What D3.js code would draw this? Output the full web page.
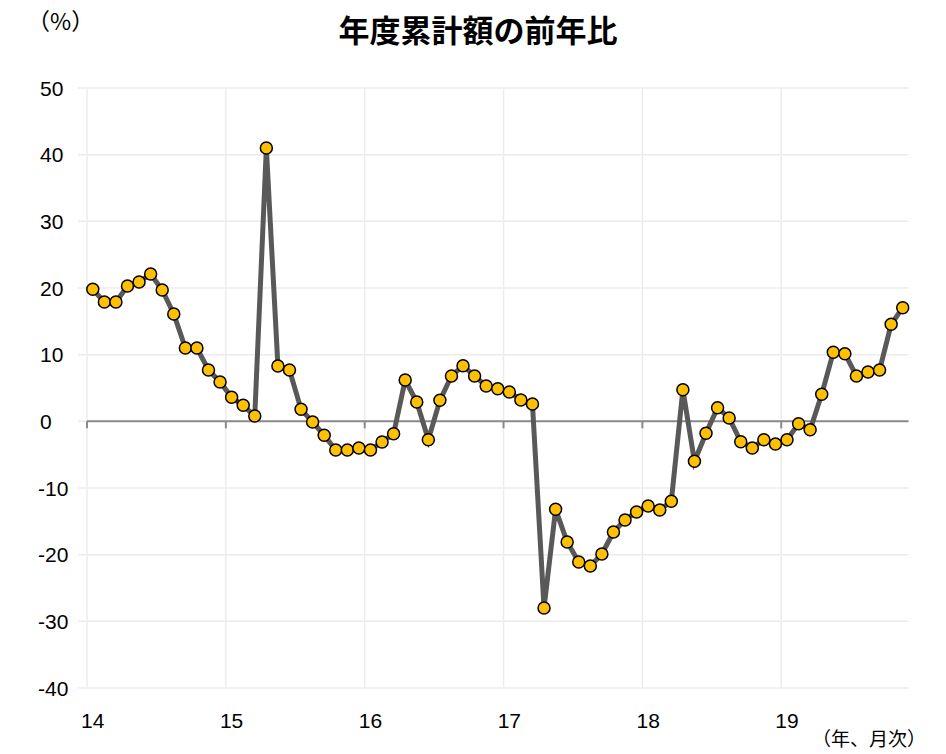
<!DOCTYPE html>
<html>
<head>
<meta charset="utf-8">
<script src="https://cdn.jsdelivr.net/npm/d3@7"></script>
<style>
  body { margin: 0; background: #fff; }
  svg { display: block; }
  text { font-family: "Liberation Sans", Arial, "Noto Sans CJK JP", sans-serif; fill: #000; }
  .jp { font-family: "Noto Sans CJK JP", sans-serif; }
</style>
</head>
<body>
<div id="chart"></div>
<script>
// year labels shown on the x axis
const yearLabels = ['14', '15', '16', '17', '18', '19'];
// y axis ticks
const yTicks = [50, 40, 30, 20, 10, 0, -10, -20, -30, -40];
// monthly yoy %, Jan 2014 .. Nov 2019
const values = [
  19.8, 17.9, 17.9, 20.3, 20.9, 22.1, 19.7, 16.1, 11.0, 11.0, 7.7, 5.9,
  3.6, 2.4, 0.8, 41.0, 8.3, 7.7, 1.8, -0.1, -2.1, -4.3, -4.3, -4.0,
  -4.3, -3.1, -1.85, 6.2, 2.9, -2.75, 3.15, 6.8, 8.35, 6.8, 5.3, 4.9,
  4.4, 3.2, 2.6, -28.0, -13.2, -18.1, -21.1, -21.7, -19.9, -16.6, -14.8, -13.6,
  -12.7, -13.3, -12.0, 4.75, -6.0, -1.8, 2.05, 0.5, -3.05, -4.0, -2.75, -3.4,
  -2.75, -0.35, -1.25, 4.05, 10.35, 10.15, 6.8, 7.4, 7.7, 14.55, 17.05
];

const categories = [];
yearLabels.forEach(yl => {
  for (let m = 1; m <= 12; m++) categories.push(yl + '-' + m);
});
const cats = categories.slice(0, values.length);
const data = cats.map((c, i) => ({ cat: c, v: values[i] }));

const W = 946, H = 754;
const plotL = 87, plotR = 908.5, plotT = 88, plotB = 688;

const svg = d3.select('#chart').append('svg')
  .attr('width', W)
  .attr('height', H);

const x = d3.scaleBand()
  .domain(cats)
  .range([plotL, plotR])
  .padding(0);

const y = d3.scaleLinear()
  .domain([-40, 50])
  .range([plotB, plotT]);

const cx = d => x(d.cat) + x.bandwidth() / 2;

// horizontal grid
svg.append('g')
  .selectAll('line')
  .data(yTicks)
  .enter().append('line')
    .attr('x1', plotL - 9)
    .attr('x2', plotR)
    .attr('y1', d => y(d))
    .attr('y2', d => y(d))
    .attr('stroke', '#ececec')
    .attr('stroke-width', 1.5);

// vertical grid at each year start
const yearStarts = yearLabels.map(yl => yl + '-1');
svg.append('g')
  .selectAll('line')
  .data(yearStarts)
  .enter().append('line')
    .attr('x1', d => x(d))
    .attr('x2', d => x(d))
    .attr('y1', plotT)
    .attr('y2', plotB)
    .attr('stroke', '#ececec')
    .attr('stroke-width', 1.5);

// y labels (left aligned, like the original)
svg.append('g')
  .selectAll('text')
  .data(yTicks)
  .enter().append('text')
    .attr('x', d => d < 0 ? 38 : 40)
    .attr('y', d => y(d))
    .attr('dy', '0.36em')
    .attr('text-anchor', 'start')
    .style('font-size', '21px')
    .text(d => d);

// zero axis line with tick marks
const zeroG = svg.append('g');
zeroG.append('line')
  .attr('x1', plotL)
  .attr('x2', plotR)
  .attr('y1', y(0))
  .attr('y2', y(0))
  .attr('stroke', '#8a8a8a')
  .attr('stroke-width', 2);
zeroG.selectAll('line.tick')
  .data(yearStarts)
  .enter().append('line')
    .attr('class', 'tick')
    .attr('x1', d => x(d))
    .attr('x2', d => x(d))
    .attr('y1', y(0))
    .attr('y2', y(0) + 7)
    .attr('stroke', '#8a8a8a')
    .attr('stroke-width', 2);

// x labels, centred on January
svg.append('g')
  .selectAll('text')
  .data(yearLabels)
  .enter().append('text')
    .attr('x', d => x(d + '-1') + x.bandwidth() / 2)
    .attr('y', 728)
    .attr('text-anchor', 'middle')
    .style('font-size', '21px')
    .text(d => d);

// line
const line = d3.line()
  .x(cx)
  .y(d => y(d.v));

svg.append('path')
  .datum(data)
  .attr('fill', 'none')
  .attr('stroke', '#595959')
  .attr('stroke-width', 5)
  .attr('stroke-linejoin', 'miter')
  .attr('d', line);

// markers
svg.append('g')
  .selectAll('circle')
  .data(data)
  .enter().append('circle')
    .attr('cx', cx)
    .attr('cy', d => y(d.v))
    .attr('r', 6)
    .attr('fill', '#ffc000')
    .attr('stroke', '#000')
    .attr('stroke-width', 1.5);

// titles
svg.append('text')
  .attr('class', 'jp')
  .attr('x', 478)
  .attr('y', 42)
  .attr('text-anchor', 'middle')
  .style('font-size', '31px')
  .style('font-weight', 'bold')
  .text('年度累計額の前年比');

svg.append('text')
  .attr('class', 'jp')
  .attr('x', 27)
  .attr('y', 30)
  .style('font-size', '23px')
  .text('（%）');

svg.append('text')
  .attr('class', 'jp')
  .attr('x', 926)
  .attr('y', 746)
  .attr('text-anchor', 'end')
  .style('font-size', '19px')
  .text('（年、月次）');
</script>
</body>
</html>
